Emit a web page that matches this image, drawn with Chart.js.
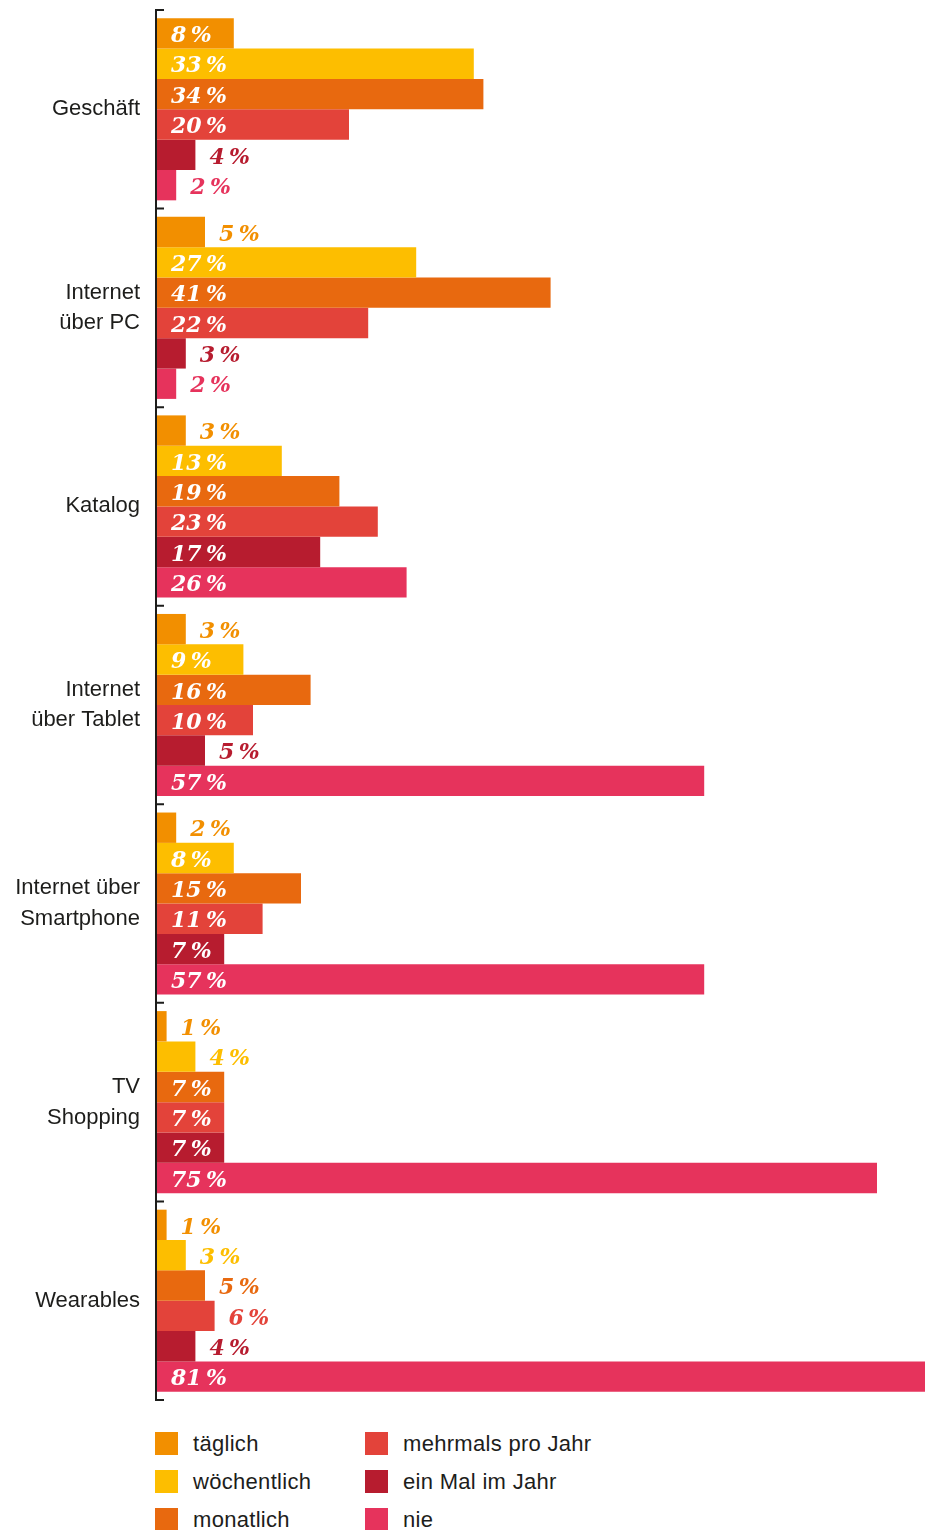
<!DOCTYPE html>
<html lang="de">
<head>
    <meta charset="UTF-8">
    <title>Einkaufskanäle</title>
    <style>
        body {
            margin: 0;
            background: #fff;
            font-family: "Liberation Sans", Arial, sans-serif;
        }

        .chart-box {
            position: relative;
            width: 925px;
            height: 1410px;
        }

        .legend {
            display: grid;
            grid-template-columns: 210px 300px;
            grid-template-rows: 38px 38px 38px;
            grid-auto-flow: column;
            margin: 22px 0 0 155px;
        }

        .legend-item {
            display: flex;
            align-items: center;
            height: 23px;
            font-size: 22px;
            letter-spacing: 0.3px;
            color: #1d1d1b;
        }

        .legend-item span {
            display: inline-block;
            width: 23px;
            height: 23px;
            margin-right: 15px;
        }
    </style>
    <script src="https://cdn.jsdelivr.net/npm/chart.js"></script>
</head>
<body>
<div class="chart-box">
    <canvas id="channelChart"></canvas>
</div>
<div class="legend" id="legend"></div>
<script>
    const categories = [
        'Geschäft',
        ['Internet', 'über PC'],
        'Katalog',
        ['Internet', 'über Tablet'],
        ['Internet über', 'Smartphone'],
        ['TV', 'Shopping'],
        'Wearables'
    ];
    const seriesNames = ['täglich', 'wöchentlich', 'monatlich', 'mehrmals pro Jahr', 'ein Mal im Jahr', 'nie'];
    const seriesColors = ['#F28F00', '#FDBE00', '#E8690F', '#E3433A', '#B71C2F', '#E6335C'];

    const taeglich = [8, 5, 3, 3, 2, 1, 1];
    const woechentlich = [33, 27, 13, 9, 8, 4, 3];
    const monatlich = [34, 41, 19, 16, 15, 7, 5];
    const mehrmals = [20, 22, 23, 10, 11, 7, 6];
    const einmal = [4, 3, 17, 5, 7, 7, 4];
    const nie = [2, 2, 26, 57, 57, 75, 81];

    const seriesValues = [taeglich, woechentlich, monatlich, mehrmals, einmal, nie];

    // value labels: inside the bar in white, or after the bar in bar colour
    const valueLabels = {
        id: 'valueLabels',
        afterDatasetsDraw(chart) {
            const ctx = chart.ctx;
            const left = chart.chartArea.left;
            ctx.save();
            ctx.font = 'italic bold 22px "DejaVu Serif", Georgia, serif';
            ctx.textBaseline = 'middle';
            ctx.textAlign = 'left';
            chart.data.datasets.forEach((ds, i) => {
                chart.getDatasetMeta(i).data.forEach((bar, j) => {
                    const v = ds.data[j];
                    const inside = v >= 7;
                    ctx.fillStyle = inside ? '#ffffff' : ds.backgroundColor;
                    const x = (inside ? left : bar.x) + 14;
                    ctx.fillText(v + '\u2009%', x, bar.y + 3);
                });
            });
            ctx.restore();
        }
    };

    // axis line with short ticks pointing into the plot between the groups
    const axisLine = {
        id: 'axisLine',
        afterDatasetsDraw(chart) {
            const ctx = chart.ctx;
            const area = chart.chartArea;
            const yScale = chart.scales.y;
            ctx.save();
            ctx.strokeStyle = '#1d1d1b';
            ctx.lineWidth = 2;
            ctx.beginPath();
            ctx.moveTo(area.left - 1, area.top);
            ctx.lineTo(area.left - 1, area.bottom);
            for (let i = 0; i <= categories.length; i++) {
                const y = yScale.getPixelForValue(i - 0.5);
                ctx.moveTo(area.left - 2, y);
                ctx.lineTo(area.left + 7, y);
            }
            ctx.stroke();
            ctx.restore();
        }
    };

    const chart = new Chart(document.getElementById('channelChart'), {
        type: 'bar',
        data: {
            labels: categories,
            datasets: seriesNames.map((name, i) => ({
                label: name,
                data: seriesValues[i],
                backgroundColor: seriesColors[i],
                borderWidth: 0,
                barPercentage: 1,
                categoryPercentage: 0.917
            }))
        },
        options: {
            indexAxis: 'y',
            responsive: true,
            maintainAspectRatio: false,
            animation: false,
            layout: {
                padding: {top: 10, bottom: 10, left: 0, right: 0}
            },
            plugins: {
                legend: {display: false},
                tooltip: {enabled: false}
            },
            scales: {
                x: {
                    display: false,
                    min: 0,
                    max: 80
                },
                y: {
                    grid: {display: false, drawTicks: false},
                    border: {display: false},
                    ticks: {
                        color: '#1d1d1b',
                        padding: 17,
                        font: {family: '"Liberation Sans", Arial, sans-serif', size: 22, lineHeight: 1.4}
                    },
                    afterFit(scale) {
                        scale.width = 157;
                        scale.paddingTop = 0;
                        scale.paddingBottom = 0;
                    }
                }
            }
        },
        plugins: [valueLabels, axisLine]
    });

    const legendBox = document.getElementById('legend');
    seriesNames.forEach((name, i) => {
        const item = document.createElement('div');
        item.className = 'legend-item';
        item.innerHTML = '<span style="background:' + seriesColors[i] + '"></span>' + name;
        legendBox.appendChild(item);
    });
</script>
</body>
</html>
